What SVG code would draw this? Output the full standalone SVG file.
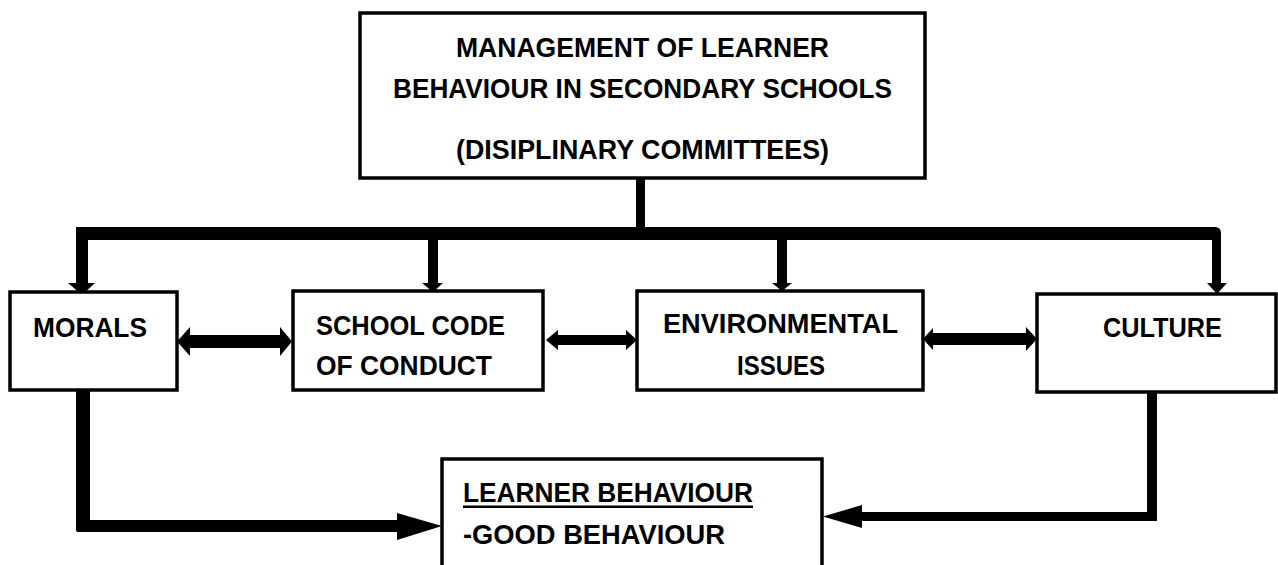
<svg xmlns="http://www.w3.org/2000/svg" width="1278" height="565" viewBox="0 0 1278 565">
<style>
.box{fill:#fff;stroke:#000;stroke-width:3.5}
.t{font-family:"Liberation Sans",Arial,sans-serif;font-weight:bold;font-size:27px;fill:#000}
.c{fill:#000}
</style>
<rect x="0" y="0" width="1278" height="565" fill="#fff"/>
<g id="connectors">
  <rect class="c" x="636" y="176" width="9" height="53"/>
  <path class="c" d="M76,227 H1215 Q1221,227 1221,233 V283 H1212 V240 H88 V283 H76 Z"/>
  <polygon class="c" points="68,283 95,283 82,295"/>
  <rect class="c" x="428" y="238" width="10" height="46"/>
  <polygon class="c" points="422,283 443,283 433,292"/>
  <rect class="c" x="777" y="238" width="10" height="46"/>
  <polygon class="c" points="772,283 792,283 782,291"/>
  <polygon class="c" points="1207,283 1227,283 1217,294"/>
  <rect class="c" x="188" y="335" width="94" height="13"/>
  <polygon class="c" points="177,341.5 190,327 190,356"/>
  <polygon class="c" points="292,341.5 280,327 280,356"/>
  <rect class="c" x="556" y="335" width="72" height="10"/>
  <polygon class="c" points="546,340 558,330 558,350"/>
  <polygon class="c" points="637,340 626,330 626,350"/>
  <rect class="c" x="931" y="333" width="96" height="12"/>
  <polygon class="c" points="923,339 933,328 933,350"/>
  <polygon class="c" points="1037,339 1026,327 1026,351"/>
  <path class="c" d="M76,390 H90 V520 H398 V532 H78 Q76,532 76,530 Z"/>
  <polygon class="c" points="397,513 442,526 397,540"/>
  <path class="c" d="M1147,392 H1157 V521 H860 V512 H1147 Z"/>
  <polygon class="c" points="823,516.5 862,505 862,528"/>
</g>
<g id="top">
  <rect class="box" x="360" y="13" width="565" height="165"/>
  <text class="t" x="456" y="57" textLength="373" lengthAdjust="spacingAndGlyphs">MANAGEMENT OF LEARNER</text>
  <text class="t" x="393" y="98" textLength="499" lengthAdjust="spacingAndGlyphs">BEHAVIOUR IN SECONDARY SCHOOLS</text>
  <text class="t" x="456" y="159" textLength="373" lengthAdjust="spacingAndGlyphs">(DISIPLINARY COMMITTEES)</text>
</g>
<g id="morals">
  <rect class="box" x="10" y="292" width="167" height="98"/>
  <text class="t" x="33" y="337" textLength="114" lengthAdjust="spacingAndGlyphs">MORALS</text>
</g>
<g id="school">
  <rect class="box" x="293" y="291" width="250" height="99"/>
  <text class="t" x="316" y="335" textLength="189" lengthAdjust="spacingAndGlyphs">SCHOOL CODE</text>
  <text class="t" x="316" y="375" textLength="176" lengthAdjust="spacingAndGlyphs">OF CONDUCT</text>
</g>
<g id="environmental">
  <rect class="box" x="637" y="291" width="286" height="99"/>
  <text class="t" x="663" y="333" textLength="235" lengthAdjust="spacingAndGlyphs">ENVIRONMENTAL</text>
  <text class="t" x="737" y="375" textLength="88" lengthAdjust="spacingAndGlyphs">ISSUES</text>
</g>
<g id="culture">
  <rect class="box" x="1037" y="294" width="239" height="98"/>
  <text class="t" x="1103" y="337" textLength="119" lengthAdjust="spacingAndGlyphs">CULTURE</text>
</g>
<g id="learner">
  <rect class="box" x="442" y="459" width="380" height="115"/>
  <text class="t" x="463" y="502" textLength="290" lengthAdjust="spacingAndGlyphs">LEARNER BEHAVIOUR</text>
  <rect class="c" x="463" y="505.5" width="290" height="2.5"/>
  <text class="t" x="463" y="544" textLength="262" lengthAdjust="spacingAndGlyphs">-GOOD BEHAVIOUR</text>
</g>
</svg>
